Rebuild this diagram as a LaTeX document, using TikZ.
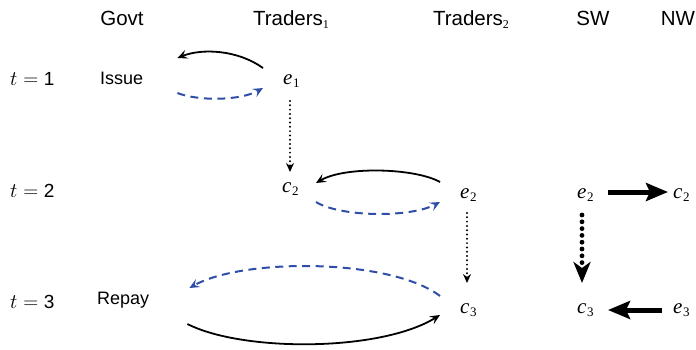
\documentclass[tikz,border=0pt]{standalone}
\usepackage{fontspec}
\setmainfont{Liberation Sans}
\newfontfamily\tms{Liberation Serif}
\usetikzlibrary{arrows.meta,calc}
\definecolor{dblue}{RGB}{46,78,168}
\newcommand\mv[2]{{\fontsize{21}{24}\selectfont\tms\itshape #1}\kern0.5pt\raisebox{-3pt}{\fontsize{13}{14}\selectfont\tms #2}}
\newcommand\hsub[1]{\raisebox{-3pt}{\fontsize{12}{13}\selectfont\tms #1}}
\newcommand\tlab[1]{{\fontsize{21}{24}\selectfont$t=\mbox{\fontsize{19}{22}\selectfont #1}$}}
\begin{document}
\begin{tikzpicture}[x=1pt,y=-1pt,
  hdr/.style={anchor=base,inner sep=0pt,font=\fontsize{20.5}{24}\selectfont},
  lab/.style={anchor=base west,inner sep=0pt,font=\fontsize{18}{22}\selectfont},
  var/.style={anchor=base west,inner sep=0pt},
  thin/.style={line width=1.8pt,-{Stealth[length=10pt,width=9pt,inset=4pt]}},
  bdash/.style={line width=2pt,dblue,dash pattern=on 8pt off 5.5pt,-{Stealth[length=10pt,width=9pt,inset=4pt]}},
  tdot/.style={line width=2.2pt,line cap=round,dash pattern=on 0pt off 4.3pt,-{Stealth[length=9pt,width=8pt,inset=3pt,line cap=butt]}},
  bigdot/.style={line width=4.8pt,line cap=round,dash pattern=on 0pt off 6.8pt,-{Stealth[length=21pt,width=17pt,inset=6pt,line cap=butt]}},
  bigarr/.style={line width=5pt,-{Stealth[length=22pt,width=18pt,inset=4pt]}}]
\useasboundingbox (0,0) rectangle (696,349);
% headers
\node[hdr] (govt) at (122,25) {Govt};
\node[hdr] (tr1) at (291,25) {Traders\hsub{1}};
\node[hdr] (tr2) at (471,25) {Traders\hsub{2}};
\node[hdr] (sw) at (593,25) {SW};
\node[hdr] (nw) at (678,25) {NW};
% time labels
\node[var] (t1) at (10,85) {\tlab{1}};
\node[var] (t2) at (10,197) {\tlab{2}};
\node[var] (t3) at (10,308) {\tlab{3}};
% govt labels
\node[lab] (issue) at (100,84) {Issue};
\node[lab] (repay) at (97,304) {Repay};
% variables
\node[var] (e1) at (283,84) {\mv{e}{1}};
\node[var] (c2) at (282,192) {\mv{c}{2}};
\node[var] (e2) at (460,198) {\mv{e}{2}};
\node[var] (c3) at (460,313) {\mv{c}{3}};
\node[var] (e2s) at (577,198) {\mv{e}{2}};
\node[var] (c2n) at (673,198) {\mv{c}{2}};
\node[var] (c3s) at (577,313) {\mv{c}{3}};
\node[var] (e3n) at (673,313) {\mv{e}{3}};
% row 1
\draw[thin] ($(e1.base west)+(-20,-16)$) .. controls +(-25,-18) and +(25,-10) .. ($(issue.base east)+(34,-26)$);
\draw[bdash] ($(issue.base east)+(34,9)$) .. controls +(20,8) and +(-23,13) .. ($(e1.base west)+(-20,4)$);
\draw[tdot] ($(e1.base west)+(7,17)$) -- ($(c2.base west)+(8,-20)$);
% row 2
\draw[thin] ($(e2.base west)+(-20,-16)$) .. controls +(-25,-14) and +(29,-17) .. ($(c2.base west)+(34,-9)$);
\draw[bdash] ($(c2.base west)+(34,10)$) .. controls +(24,15) and +(-30,16) .. ($(e2.base west)+(-20,4)$);
\draw[tdot] ($(e2.base west)+(7,15)$) -- ($(c3.base west)+(7,-30)$);
% row 3
\draw[bdash] ($(c3.base west)+(-20,-17)$) .. controls +(-50,-38) and +(53,-30) .. ($(repay.base east)+(40,-16)$);
\draw[thin] ($(repay.base east)+(38,20)$) .. controls +(55,28) and +(-60,37) .. ($(c3.base west)+(-20,2)$);
% SW / NW
\draw[bigdot] ($(e2s.base west)+(5,17)$) -- ($(c3s.base west)+(5,-30)$);
\draw[bigarr] ($(e2s.base west)+(31,-6)$) -- ($(c2n.base west)+(-5,-6)$);
\draw[bigarr] ($(e3n.base west)+(-11,-3)$) -- ($(c3s.base west)+(31,-3)$);
\end{tikzpicture}
\end{document}
